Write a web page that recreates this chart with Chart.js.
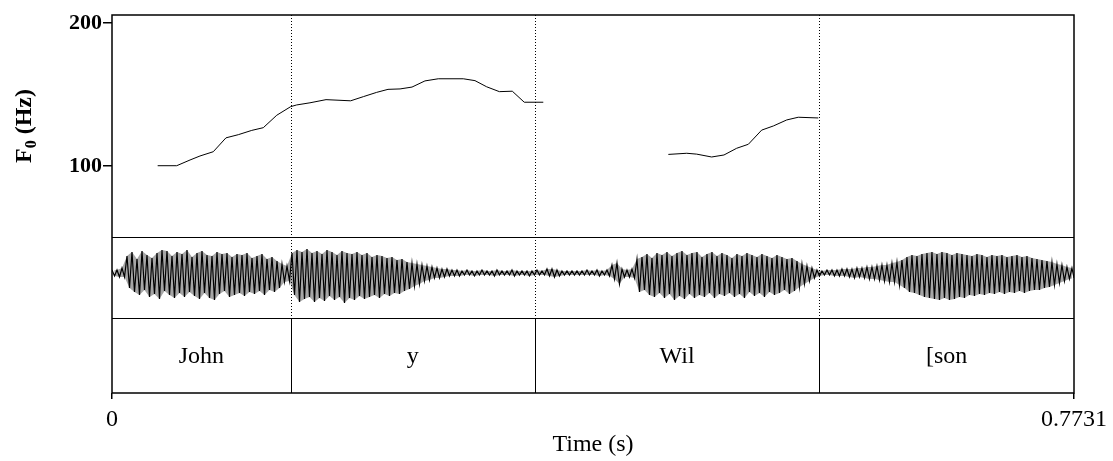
<!DOCTYPE html>
<html>
<head>
<meta charset="utf-8">
<script src="https://cdn.jsdelivr.net/npm/chart.js@4.4.0/dist/chart.umd.min.js"></script>
<style>
  html, body { margin: 0; padding: 0; background: #fff; }
  #wrap { width: 1113px; height: 461px; }
</style>
</head>
<body>
<div id="wrap"><canvas id="f0Chart"></canvas></div>
<script>
const totalDur = 0.7731;
const f0Ticks = [100, 200];
const timeTicks = [0, 0.7731];

// pitch track (s, Hz), null = unvoiced gap
const f0Times = [0.0367, 0.0520, 0.0627, 0.0707, 0.0814, 0.0916, 0.1015, 0.1123, 0.1216, 0.1324,
  0.1436, 0.1484, 0.1591, 0.1720, 0.1918, 0.2020, 0.2127, 0.2218, 0.2315, 0.2411,
  0.2515, 0.2622, 0.2823, 0.2917, 0.3011, 0.3113, 0.3217, 0.3313, 0.3466,
  0.4000,
  0.4471, 0.4619, 0.4699, 0.4819, 0.4918, 0.5020, 0.5114, 0.5221, 0.5315, 0.5422, 0.5515, 0.5676];
const f0Values = [100.2, 100.2, 104.2, 107.0, 110.0, 119.7, 121.9, 124.9, 126.8, 135.5,
  141.5, 142.7, 144.2, 146.4, 145.6, 148.5, 151.5, 153.6, 153.9, 155.2,
  159.5, 161.0, 161.0, 159.7, 155.4, 152.0, 152.3, 144.6, 144.6,
  null,
  108.1, 108.9, 108.3, 106.3, 107.7, 112.4, 115.2, 125.1, 128.0, 132.2, 134.1, 133.6];

// word tier
const tierLabels = ['John', 'y', 'Wil', '[son'];
const tierBounds = [0, 0.1436, 0.3399, 0.5684, 0.7731];

// waveform envelope (peak above / below zero), one pair per waveStep
const waveStep = 0.004018;
const waveUpper = [
  0.03, 0.03, 0.05, 0.17, 0.21, 0.14, 0.22, 0.18, 0.15, 0.20,
  0.23, 0.22, 0.17, 0.21, 0.19, 0.23, 0.16, 0.20, 0.22, 0.18,
  0.17, 0.21, 0.19, 0.20, 0.16, 0.19, 0.18, 0.20, 0.15, 0.17,
  0.19, 0.14, 0.16, 0.12, 0.09, 0.07, 0.20, 0.23, 0.21, 0.24,
  0.20, 0.22, 0.19, 0.23, 0.21, 0.18, 0.22, 0.20, 0.19, 0.21,
  0.18, 0.20, 0.16, 0.18, 0.17, 0.15, 0.16, 0.13, 0.14, 0.11,
  0.10, 0.09, 0.08, 0.07, 0.06, 0.05, 0.04, 0.04, 0.03, 0.03,
  0.02, 0.03, 0.02, 0.02, 0.03, 0.02, 0.02, 0.03, 0.02, 0.02,
  0.03, 0.02, 0.02, 0.02, 0.02, 0.03, 0.02, 0.04, 0.04, 0.03,
  0.02, 0.02, 0.02, 0.02, 0.02, 0.03, 0.02, 0.03, 0.02, 0.03,
  0.08, 0.10, 0.04, 0.03, 0.04, 0.14, 0.16, 0.19, 0.15, 0.20,
  0.18, 0.21, 0.17, 0.20, 0.22, 0.18, 0.20, 0.21, 0.16, 0.19,
  0.21, 0.17, 0.20, 0.18, 0.15, 0.19, 0.17, 0.20, 0.18, 0.16,
  0.19, 0.17, 0.15, 0.18, 0.16, 0.14, 0.15, 0.12, 0.09, 0.07,
  0.05, 0.03, 0.02, 0.03, 0.03, 0.03, 0.04, 0.04, 0.04, 0.05,
  0.05, 0.06, 0.06, 0.07, 0.08, 0.08, 0.10, 0.11, 0.13, 0.16,
  0.18, 0.17, 0.19, 0.20, 0.21, 0.19, 0.21, 0.20, 0.18, 0.20,
  0.19, 0.18, 0.17, 0.19, 0.18, 0.16, 0.18, 0.17, 0.18, 0.16,
  0.17, 0.18, 0.16, 0.17, 0.15, 0.14, 0.13, 0.12, 0.11, 0.09,
  0.08, 0.06, 0.05];
const waveLower = [
  0.03, 0.04, 0.04, 0.15, 0.19, 0.22, 0.17, 0.24, 0.21, 0.26,
  0.18, 0.22, 0.25, 0.20, 0.24, 0.19, 0.23, 0.26, 0.20, 0.25,
  0.27, 0.21, 0.18, 0.24, 0.22, 0.20, 0.23, 0.19, 0.21, 0.18,
  0.22, 0.17, 0.19, 0.15, 0.09, 0.08, 0.22, 0.29, 0.26, 0.24,
  0.29, 0.25, 0.28, 0.23, 0.27, 0.24, 0.30, 0.25, 0.27, 0.23,
  0.26, 0.24, 0.22, 0.25, 0.21, 0.23, 0.20, 0.21, 0.18, 0.16,
  0.13, 0.11, 0.08, 0.07, 0.05, 0.05, 0.04, 0.03, 0.03, 0.03,
  0.02, 0.02, 0.03, 0.02, 0.02, 0.02, 0.03, 0.02, 0.02, 0.02,
  0.03, 0.02, 0.02, 0.03, 0.02, 0.02, 0.02, 0.03, 0.04, 0.03,
  0.02, 0.02, 0.02, 0.02, 0.02, 0.02, 0.02, 0.03, 0.02, 0.03,
  0.06, 0.11, 0.04, 0.04, 0.05, 0.19, 0.17, 0.22, 0.24, 0.20,
  0.25, 0.21, 0.27, 0.23, 0.26, 0.21, 0.25, 0.22, 0.24, 0.20,
  0.25, 0.21, 0.23, 0.20, 0.24, 0.21, 0.25, 0.19, 0.23, 0.20,
  0.24, 0.19, 0.22, 0.20, 0.17, 0.21, 0.18, 0.14, 0.11, 0.08,
  0.05, 0.03, 0.02, 0.02, 0.03, 0.03, 0.03, 0.04, 0.05, 0.04,
  0.05, 0.06, 0.06, 0.07, 0.08, 0.09, 0.09, 0.12, 0.15, 0.19,
  0.20, 0.22, 0.24, 0.25, 0.26, 0.27, 0.25, 0.27, 0.26, 0.24,
  0.25, 0.22, 0.23, 0.21, 0.22, 0.20, 0.21, 0.19, 0.21, 0.19,
  0.20, 0.18, 0.20, 0.18, 0.17, 0.17, 0.15, 0.14, 0.12, 0.10,
  0.08, 0.06, 0.05];

const serif = '"Liberation Serif", "Times New Roman", serif';

const f0Points = f0Times.map((t, i) => ({x: t, y: f0Values[i]}));
const upperPts = waveUpper.map((v, i) => ({x: i * waveStep, y: v}));
const lowerPts = waveLower.map((v, i) => ({x: Math.min(i * waveStep + waveStep / 2, totalDur), y: -v}));
const zigzag = [];
waveUpper.forEach((v, i) => { zigzag.push(upperPts[i]); zigzag.push(lowerPts[i]); });

// frame, panel lines, interval tier, y title
const praatFrame = {
  id: 'praatFrame',
  afterDatasetsDraw(chart) {
    const {ctx, chartArea: a, scales} = chart;
    const x = scales.x, yP = scales.yPitch, yW = scales.yWave, yT = scales.yTier;
    ctx.save();
    ctx.strokeStyle = '#000';
    ctx.fillStyle = '#000';
    ctx.lineWidth = 1;
    ctx.beginPath();
    [yW.top, yT.top].forEach(y => {
      ctx.moveTo(a.left, Math.round(y) + 0.5);
      ctx.lineTo(a.right, Math.round(y) + 0.5);
    });
    ctx.stroke();

    tierBounds.slice(1, -1).forEach(t => {
      const px = Math.round(x.getPixelForValue(t)) + 0.5;
      ctx.setLineDash([1, 2]);
      ctx.beginPath();
      ctx.moveTo(px, yP.top);
      ctx.lineTo(px, yW.bottom);
      ctx.stroke();
      ctx.setLineDash([]);
      ctx.beginPath();
      ctx.moveTo(px, yT.top);
      ctx.lineTo(px, yT.bottom);
      ctx.stroke();
    });

    ctx.font = '24px ' + serif;
    ctx.textAlign = 'center';
    ctx.textBaseline = 'middle';
    tierLabels.forEach((lab, i) => {
      const cx = (x.getPixelForValue(tierBounds[i]) + x.getPixelForValue(tierBounds[i + 1])) / 2;
      ctx.fillText(lab, cx, (yT.top + yT.bottom) / 2 + 1);
    });

    ctx.lineWidth = 1.5;
    ctx.strokeRect(a.left, a.top, a.right - a.left, a.bottom - a.top);

    // F0 (Hz) with subscript
    const big = 'bold 24px ' + serif, small = 'bold 16px ' + serif;
    ctx.font = big;
    const wF = ctx.measureText('F').width;
    const wRest = ctx.measureText(' (Hz)').width;
    ctx.font = small;
    const w0 = ctx.measureText('0').width;
    const total = wF + w0 + wRest;
    ctx.translate(31, (yP.top + yP.bottom) / 2);
    ctx.rotate(-Math.PI / 2);
    ctx.textAlign = 'left';
    ctx.textBaseline = 'alphabetic';
    let cx = -total / 2;
    ctx.font = big;
    ctx.fillText('F', cx, 0);
    cx += wF;
    ctx.font = small;
    ctx.fillText('0', cx, 5);
    cx += w0;
    ctx.font = big;
    ctx.fillText(' (Hz)', cx, 0);
    ctx.restore();
  }
};

const fixWidth = s => { s.width = 112; };
const hiddenY = (weight, min, max) => ({
  type: 'linear', position: 'left', stack: 'panels', stackWeight: weight,
  min, max,
  ticks: {display: false}, grid: {display: false}, border: {display: false},
  afterFit: fixWidth
});

const data = {
  datasets: [
    {
      // pitch contour
      data: f0Points, yAxisID: 'yPitch', xAxisID: 'x',
      borderColor: '#000', borderWidth: 1, pointRadius: 0, tension: 0, spanGaps: false, fill: false
    },
    {
      data: zigzag, yAxisID: 'yWave', xAxisID: 'x',
      borderColor: '#000', borderWidth: 1.2, pointRadius: 0, tension: 0, fill: false
    },
    {
      data: upperPts, yAxisID: 'yWave', xAxisID: 'x',
      borderWidth: 0, pointRadius: 0, tension: 0,
      fill: '+1', backgroundColor: 'rgba(0,0,0,0.35)'
    },
    {
      data: lowerPts, yAxisID: 'yWave', xAxisID: 'x',
      borderWidth: 0, pointRadius: 0, tension: 0, fill: false
    }
  ]
};

const config = {
  type: 'line',
  data,
  options: {
    responsive: true,
    maintainAspectRatio: false,
    animation: false,
    layout: {padding: {top: 15, right: 39, left: 0, bottom: 0}},
    plugins: {legend: {display: false}, tooltip: {enabled: false}},
    scales: {
      x: {
        type: 'linear', position: 'bottom', min: 0, max: totalDur,
        afterBuildTicks: s => { s.ticks = timeTicks.map(v => ({value: v})); },
        afterFit: s => { s.height = 68; },
        grid: {drawOnChartArea: false, drawTicks: true, tickLength: 6, color: '#000', lineWidth: 1.5},
        border: {display: false},
        ticks: {
          autoSkip: false, maxRotation: 0, padding: 6, color: '#000',
          font: {family: serif, size: 24},
          callback: v => String(v)
        },
        title: {display: true, text: 'Time (s)', color: '#000', font: {family: serif, size: 24}, padding: {top: 0, bottom: 2}}
      },
      yTier: hiddenY(75, 0, 1),
      yWave: hiddenY(81, -0.45, 0.36),
      yPitch: {
        type: 'linear', position: 'left', stack: 'panels', stackWeight: 222,
        min: 50.35, max: 205.6,
        afterBuildTicks: s => { s.ticks = f0Ticks.map(v => ({value: v})); },
        afterFit: fixWidth,
        grid: {drawOnChartArea: false, drawTicks: true, tickLength: 9, color: '#000', lineWidth: 1.5},
        border: {display: false},
        ticks: {
          autoSkip: false, padding: 1, color: '#000',
          font: {family: serif, size: 22, weight: 'bold'},
          callback: v => String(v)
        }
      }
    }
  },
  plugins: [praatFrame]
};

const f0Chart = new Chart(document.getElementById('f0Chart'), config);
</script>
</body>
</html>
